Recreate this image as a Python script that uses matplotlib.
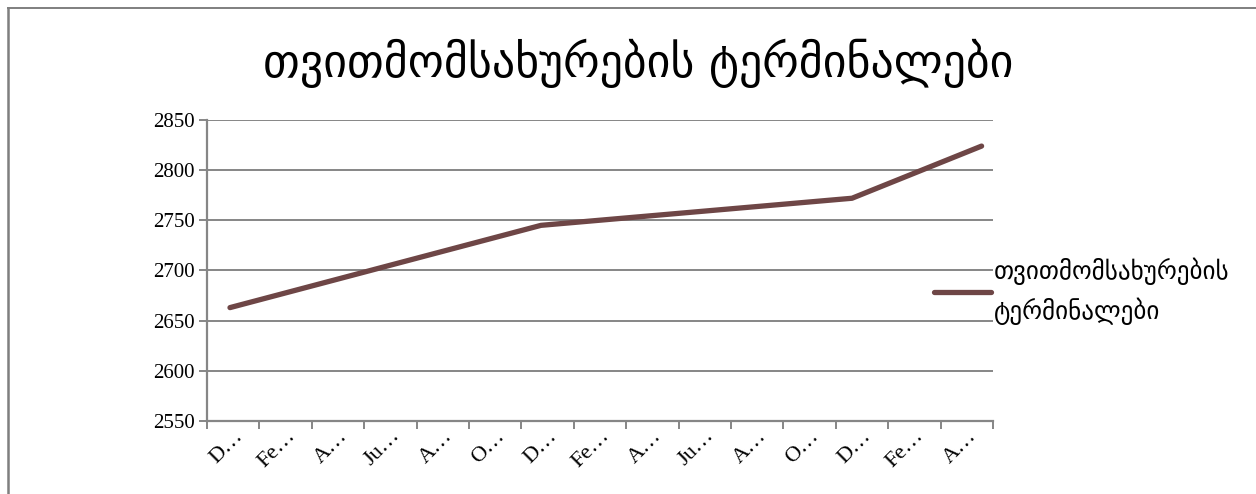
import numpy as np
import matplotlib.pyplot as plt
from matplotlib.lines import Line2D

title = "თვითმომსახურების ტერმინალები"
series_name = "თვითმომსახურების\nტერმინალები"

# months since Dec 2010 and the values
months = [0, 12, 24, 29]
values = [2663, 2745, 2772, 2824]

tick_labels = ["D…", "Fe…", "A…", "Ju…", "A…", "O…",
               "D…", "Fe…", "A…", "Ju…", "A…", "O…",
               "D…", "Fe…", "A…"]

geo = ["DejaVu Sans"]
serif = ["Liberation Serif", "DejaVu Serif"]
grid_col = "#868686"
line_col = "#6e4646"

fig = plt.figure(figsize=(12.56, 4.94), dpi=100)
ax = fig.add_axes([0.1648, 0.1478, 0.6258, 0.6093])

x0, x1 = -0.887, 29.44
ax.set_xlim(x0, x1)
ax.set_ylim(2550, 2850)

ax.plot(months, values, color=line_col, lw=3.8, solid_capstyle="round",
        label=series_name, zorder=3)

# gridlines and y ticks
ax.set_yticks(np.arange(2550, 2851, 50))
ax.yaxis.grid(True, color=grid_col, lw=1.4)
ax.set_axisbelow(True)

# category-style x axis: ticks between labels
edges = np.linspace(x0, x1, len(tick_labels) + 1)
ax.set_xticks(edges)
ax.set_xticklabels([])
ax.set_xticks((edges[:-1] + edges[1:]) / 2, minor=True)
ax.set_xticklabels(tick_labels, minor=True, rotation=45, ha="right",
                   va="top", rotation_mode="anchor", family=serif, fontsize=16)
ax.tick_params(axis="x", which="minor", length=0, pad=4)
ax.tick_params(axis="x", which="major", length=6, width=1.4, color=grid_col)
ax.tick_params(axis="y", length=6, width=1.4, color=grid_col, pad=3)
for lab in ax.get_yticklabels():
    lab.set_family(serif)
    lab.set_fontsize(15)

for s in ["top", "right"]:
    ax.spines[s].set_visible(False)
for s in ["left", "bottom"]:
    ax.spines[s].set_color(grid_col)
    ax.spines[s].set_linewidth(1.6)

fig.text(0.508, 0.872, title, ha="center", va="center", family=geo,
         fontsize=33)

leg = ax.legend(loc="upper left", bbox_to_anchor=(0.912, 0.575), frameon=False,
                prop={"family": geo, "size": 18}, handlelength=2.3,
                handletextpad=0.1, borderaxespad=0)
leg.get_texts()[0].set_linespacing(1.55)

# outer chart border (left and top only visible)
bx, by = 7.5 / 1256, 1 - 8.5 / 494
fig.add_artist(Line2D([bx, bx], [0, by], transform=fig.transFigure,
                      color="#7f7f7f", lw=1.8))
fig.add_artist(Line2D([bx, 1], [by, by], transform=fig.transFigure,
                      color="#7f7f7f", lw=1.4))

plt.savefig("out.png", dpi=100)
